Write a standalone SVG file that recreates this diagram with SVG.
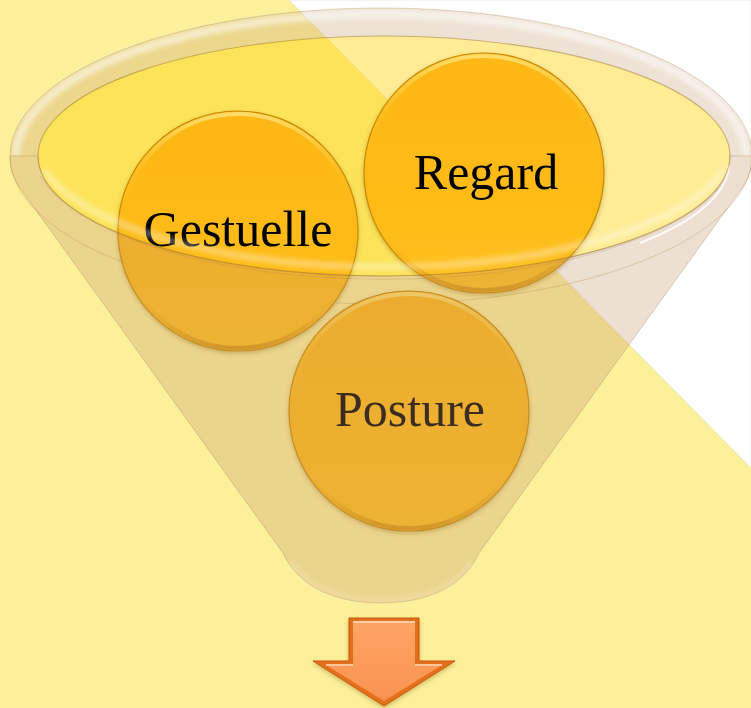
<svg xmlns="http://www.w3.org/2000/svg" width="751" height="708" viewBox="0 0 751 708">
<defs>
<style>
.lbl{font-family:"Liberation Serif","Times New Roman",serif;font-size:50px;fill:#000;text-anchor:middle}
.ball{fill:url(#ballGrad);stroke:#C98A06;stroke-width:1.2;filter:url(#shadow)}
.bevel{fill:none;stroke:url(#bevelGrad);stroke-width:4}
</style>
<linearGradient id="ballGrad" x1="0" y1="0" x2="0" y2="1">
<stop offset="0" stop-color="#FDB714"/>
<stop offset="0.5" stop-color="#FEBA15"/>
<stop offset="1" stop-color="#FFC01E"/>
</linearGradient>
<linearGradient id="bevelGrad" x1="0" y1="0" x2="0" y2="1">
<stop offset="0" stop-color="#FFE070" stop-opacity="0.9"/>
<stop offset="0.25" stop-color="#FFD040" stop-opacity="0.2"/>
<stop offset="0.8" stop-color="#E09A00" stop-opacity="0"/>
<stop offset="1" stop-color="#B07000" stop-opacity="0.5"/>
</linearGradient>
<linearGradient id="arrowGrad" x1="0" y1="0" x2="0" y2="1">
<stop offset="0" stop-color="#FFA466"/>
<stop offset="1" stop-color="#F8934E"/>
</linearGradient>
<filter id="shadow" x="-20%" y="-20%" width="140%" height="140%">
<feDropShadow dx="0" dy="2" stdDeviation="2" flood-color="#7A5000" flood-opacity="0.35"/>
</filter>
<filter id="blur3"><feGaussianBlur stdDeviation="2.5"/></filter>
</defs>

<g id="background">
<rect x="0" y="0" width="751" height="708" fill="#FCF09B"/>
<polygon points="289,0 751,0 751,468" fill="#FFFFFF" stroke="#C8C0A8" stroke-opacity="0.4" stroke-width="0.8"/>
</g>

<g id="funnel-back">
<path d="M10,156 A371,148 0 0 1 752,156 L730,156 A346,120 0 0 0 38,156 Z" fill="#C39669" fill-opacity="0.28"/>
<ellipse cx="384" cy="156" rx="346" ry="120" fill="#FFD200" fill-opacity="0.42"/>
<path d="M16,156 A365,142 0 0 1 746,156" fill="none" stroke="#FFFFFF" stroke-opacity="0.55" stroke-width="8" filter="url(#blur3)"/>
<ellipse cx="381" cy="156" rx="371" ry="148" fill="none" stroke="#B48A50" stroke-opacity="0.35" stroke-width="1"/>
<path d="M38,156 A346,120 0 0 1 730,156" fill="none" stroke="#A07830" stroke-opacity="0.5" stroke-width="1.2"/>
</g>

<g id="node-gestuelle">
<circle class="ball" cx="238" cy="231" r="120"/>
<circle class="bevel" cx="238" cy="231" r="117"/>
<text class="lbl" x="238" y="246">Gestuelle</text>
</g>
<g id="node-regard">
<circle class="ball" cx="484" cy="173" r="120"/>
<circle class="bevel" cx="484" cy="173" r="117"/>
<text class="lbl" x="486" y="189">Regard</text>
</g>
<g id="node-posture">
<circle class="ball" cx="409" cy="411" r="120"/>
<circle class="bevel" cx="409" cy="411" r="117"/>
<text class="lbl" x="410" y="426">Posture</text>
</g>

<g id="funnel-front">
<path d="M10,156 C10,168 13,178 20,188 L283,553 C300,590 340,603 381,603 C422,603 462,590 479,553 L742,188 C749,178 752,168 752,156 L730,156 A346,120 0 0 1 38,156 Z" fill="#C39669" fill-opacity="0.3" stroke="#A88050" stroke-opacity="0.35" stroke-width="1"/>
<path d="M44,170 A350,127 0 0 0 724,170" fill="none" stroke="#FFFFFF" stroke-opacity="0.35" stroke-width="7" filter="url(#blur3)"/>
<path d="M40,176 A352,131 0 0 0 728,176" fill="none" stroke="#A88050" stroke-opacity="0.25" stroke-width="1"/>
<path d="M640,243 A346,120 0 0 0 729,165" fill="none" stroke="#FFFFFF" stroke-opacity="0.9" stroke-width="2"/>
<path d="M38,156 A346,120 0 0 0 730,156" fill="none" stroke="#A07830" stroke-opacity="0.45" stroke-width="1.2"/>
<path d="M290,562 C310,592 345,600 381,600 C417,600 452,592 472,562" fill="none" stroke="#FFFFFF" stroke-opacity="0.25" stroke-width="4" filter="url(#blur3)"/>
</g>

<g id="connectors">
<path d="M349,618 L419,618 L419,661 L455,661 L384,706 L313,661 L349,661 Z" fill="#E2701A" stroke="#C85A0A" stroke-width="1" filter="url(#shadow)"/>
<path d="M353,622 L415,622 L415,665 L442,665 L384,701 L326,665 L353,665 Z" fill="url(#arrowGrad)"/>
<path d="M353,622 L415,622" stroke="#FFD0A8" stroke-width="2" fill="none"/>
<path d="M326,665 L353,665 M415,665 L442,665" stroke="#FFC898" stroke-width="2" fill="none"/>
</g>
</svg>
